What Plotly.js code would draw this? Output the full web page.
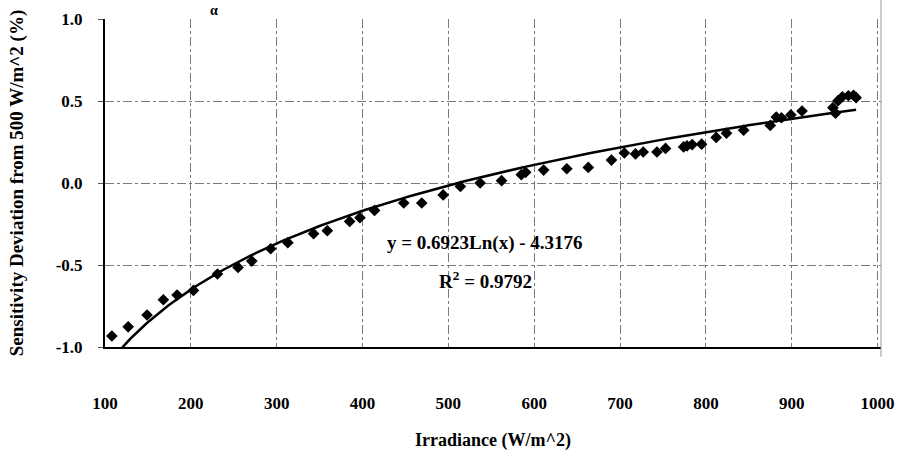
<!DOCTYPE html>
<html>
<head>
<meta charset="utf-8">
<script src="https://cdn.plot.ly/plotly-3.0.1.min.js"></script>
<style>html,body{margin:0;padding:0;background:#fff;}#chart{width:905px;height:459px;}</style>
</head>
<body>
<div id="chart"></div>
<script>
// Measured irradiance (W/m^2)
const irradiance = [108, 127, 149, 168, 184, 203, 231, 255, 271, 293, 313, 343, 359, 385, 397, 414, 448, 469, 494, 514, 537, 562, 585, 590, 611, 638, 663, 690, 705, 718, 727, 743, 753, 774, 778, 784, 795, 812, 824, 844, 875, 882, 888, 899, 912, 948, 951, 954, 959, 966, 972, 975];
// Sensitivity deviation from 500 W/m^2 (%)
const deviation = [-0.933, -0.877, -0.805, -0.712, -0.683, -0.655, -0.555, -0.515, -0.476, -0.401, -0.364, -0.309, -0.291, -0.234, -0.212, -0.167, -0.122, -0.122, -0.073, -0.021, 0.0, 0.014, 0.051, 0.065, 0.079, 0.087, 0.095, 0.140, 0.183, 0.177, 0.189, 0.189, 0.211, 0.220, 0.226, 0.234, 0.237, 0.278, 0.304, 0.322, 0.351, 0.402, 0.398, 0.415, 0.439, 0.459, 0.426, 0.502, 0.526, 0.532, 0.535, 0.520];
// Logarithmic trendline coefficients as printed on the chart
const fitSlope = 0.6923;
const fitIntercept = -4.3176;
const fitLabel = 'y = 0.6923Ln(x) - 4.3176';
const r2Label = 'R<sup>2</sup> = 0.9792';
const xTicks = [100, 200, 300, 400, 500, 600, 700, 800, 900, 1000];
const yTicks = [-1.0, -0.5, 0.0, 0.5, 1.0];
const yTickText = ['-1.0', '-0.5', '0.0', '0.5', '1.0'];

// trendline evaluated across the data range
const xMin = Math.min(...irradiance), xMax = Math.max(...irradiance);
const trendX = [], trendY = [];
for (let i = 0; i <= 200; i++) {
  const x = xMin + (xMax - xMin) * i / 200;
  trendX.push(x);
  trendY.push(fitSlope * Math.log(x) + fitIntercept);
}

const FONT = 'Liberation Serif, Times New Roman, serif';

const data = [
  {
    x: trendX, y: trendY, type: 'scatter', mode: 'lines',
    line: {color: '#000', width: 2.5}, hoverinfo: 'skip', showlegend: false
  },
  {
    x: irradiance, y: deviation, type: 'scatter', mode: 'markers',
    marker: {symbol: 'diamond', size: 9, color: '#000'}, showlegend: false
  }
];

const layout = {
  width: 905, height: 459,
  margin: {l: 105, r: 24, t: 19, b: 112},
  paper_bgcolor: '#fff', plot_bgcolor: '#fff',
  font: {family: FONT, color: '#000', size: 17, weight: 'bold'},
  showlegend: false,
  xaxis: {
    range: [100, 1004], tickvals: xTicks, ticktext: xTicks.map(String),
    showgrid: true, gridcolor: '#7a7a7a', griddash: 'dashdot', gridwidth: 1,
    showline: true, linecolor: '#000', linewidth: 2, mirror: false,
    ticks: '', ticklabelstandoff: 40, zeroline: false,
    tickfont: {family: FONT, size: 17, color: '#000', weight: 'bold'},
    title: {text: 'Irradiance (W/m^2)', font: {family: FONT, size: 18, color: '#000', weight: 'bold'}, standoff: 21}
  },
  yaxis: {
    range: [-1, 1], tickvals: yTicks, ticktext: yTickText,
    showgrid: true, gridcolor: '#7a7a7a', griddash: 'dashdot', gridwidth: 1,
    showline: true, linecolor: '#000', linewidth: 2,
    ticks: 'outside', ticklen: 5, tickcolor: '#555', ticklabelstandoff: 12, zeroline: false,
    tickfont: {family: FONT, size: 17, color: '#000', weight: 'bold'},
    title: {text: 'Sensitivity Deviation from 500 W/m^2 (%)', font: {family: FONT, size: 19, color: '#000', weight: 'bold'}, standoff: 27}
  },
  shapes: [
    {type: 'line', xref: 'paper', yref: 'paper', x0: 1, x1: 1, y0: -0.03, y1: 1.06, line: {color: '#999', width: 1}}
  ],
  annotations: [
    {xref: 'paper', yref: 'paper', x: 0.49, y: 0.318, yanchor: 'middle', text: fitLabel, showarrow: false,
     font: {family: FONT, size: 19, color: '#000', weight: 'bold'}},
    {xref: 'paper', yref: 'paper', x: 0.49, y: 0.205, yanchor: 'middle', text: r2Label, showarrow: false,
     font: {family: FONT, size: 19, color: '#000', weight: 'bold'}},
    {xref: 'paper', yref: 'paper', x: 0.133, y: 1.027, yanchor: 'middle', text: 'α', showarrow: false,
     font: {family: FONT, size: 14, color: '#000', weight: 'bold'}}
  ]
};

Plotly.newPlot('chart', data, layout, {displayModeBar: false, staticPlot: true});
</script>
</body>
</html>
